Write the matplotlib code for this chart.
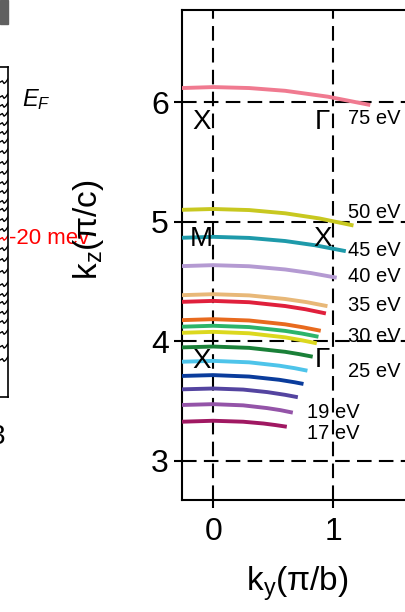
import matplotlib
matplotlib.use("Agg")
import matplotlib.pyplot as plt
from matplotlib.patches import Rectangle

plt.rcParams["font.family"] = ["Liberation Sans", "DejaVu Sans"]
plt.rcParams["mathtext.fontset"] = "custom"
plt.rcParams["mathtext.rm"] = "Liberation Sans"
plt.rcParams["mathtext.it"] = "Liberation Sans:italic"

# ---- данные: контуры постоянной энергии для разных hv ----
CURVE_COLORS = [
    "#f07a90", "#c8c820", "#1e9aaa", "#b49ad2", "#e8b878", "#e0203c",
    "#e86a1e", "#2cb46a", "#dcd81e", "#1a8038", "#4ec4ea", "#0a3c9c",
    "#5444a0", "#9454a8", "#a01862",
]
CURVE_X = [
    [-0.26, 0.0, 0.3, 0.6, 0.955, 1.31],
    [-0.26, 0.0, 0.3, 0.6, 0.885, 1.17],
    [-0.26, 0.0, 0.3, 0.6, 0.853, 1.106],
    [-0.26, 0.0, 0.3, 0.6, 0.815, 1.03],
    [-0.26, 0.0, 0.3, 0.6, 0.777, 0.953],
    [-0.26, 0.0, 0.3, 0.6, 0.77, 0.94],
    [-0.26, 0.0, 0.3, 0.6, 0.749, 0.897],
    [-0.26, 0.0, 0.3, 0.6, 0.739, 0.878],
    [-0.26, 0.0, 0.3, 0.6, 0.732, 0.864],
    [-0.26, 0.0, 0.3, 0.6, 0.715, 0.83],
    [-0.26, 0.0, 0.3, 0.55, 0.68, 0.786],
    [-0.26, 0.0, 0.3, 0.55, 0.68, 0.753],
    [-0.26, 0.0, 0.25, 0.45, 0.6, 0.706],
    [-0.26, 0.0, 0.25, 0.45, 0.56, 0.664],
    [-0.26, 0.0, 0.25, 0.42, 0.52, 0.614],
]
CURVE_Y = [
    [6.117, 6.125, 6.117, 6.094, 6.045, 5.975],
    [5.098, 5.105, 5.096, 5.069, 5.026, 4.967],
    [4.864, 4.872, 4.863, 4.837, 4.801, 4.752],
    [4.627, 4.635, 4.626, 4.599, 4.569, 4.530],
    [4.384, 4.392, 4.382, 4.352, 4.326, 4.292],
    [4.328, 4.336, 4.325, 4.293, 4.266, 4.231],
    [4.175, 4.183, 4.172, 4.140, 4.115, 4.086],
    [4.120, 4.128, 4.117, 4.085, 4.063, 4.036],
    [4.069, 4.077, 4.065, 4.031, 4.008, 3.981],
    [3.947, 3.954, 3.943, 3.910, 3.891, 3.869],
    [3.827, 3.834, 3.822, 3.794, 3.773, 3.752],
    [3.708, 3.715, 3.703, 3.676, 3.655, 3.641],
    [3.596, 3.603, 3.594, 3.573, 3.550, 3.530],
    [3.465, 3.472, 3.462, 3.439, 3.422, 3.401],
    [3.325, 3.333, 3.325, 3.310, 3.297, 3.283],
]

HV_LABELS = ["75 eV", "50 eV", "45 eV", "40 eV", "35 eV", "30 eV", "25 eV", "19 eV", "17 eV"]
HV_LABEL_X = [1.125, 1.125, 1.125, 1.125, 1.125, 1.125, 1.125, 0.78, 0.78]
HV_LABEL_Y = [5.866, 5.078, 4.758, 4.537, 4.300, 4.036, 3.744, 3.404, 3.223]

POINT_LABELS = ["X", "Γ", "M", "X", "X", "Γ"]
POINT_X = [-0.1, 0.91, -0.1, 0.91, -0.1, 0.91]
POINT_Y = [5.83, 5.83, 4.85, 4.85, 3.83, 3.84]

XTICKS = [0, 1]
YTICKS = [3, 4, 5, 6]
ZONE_KY = [0, 1]
ZONE_KZ = [3, 4, 5, 6]

# уровни EDC-кривых на обрезанной левой панели (доля высоты панели)
EDC_LEVELS = [0.954, 0.909, 0.882, 0.855, 0.827, 0.800, 0.773, 0.742,
              0.709, 0.679, 0.648, 0.621, 0.591, 0.567, 0.536, 0.506,
              0.479, 0.448, 0.415, 0.379, 0.339, 0.309, 0.285, 0.255,
              0.227, 0.194, 0.152, 0.112]
EDC_RED_LEVEL = 0.479
EDC_PROFILE_X = [0.0, 0.72, 0.8, 0.86, 0.92, 1.0]
EDC_PROFILE_DY = [0.0, 0.0, 0.004, -0.004, 0.0, 0.010]

W, H = 406, 612
fig = plt.figure(figsize=(W / 100, H / 100), dpi=100)

# ---- обрезанная левая панель ----
axl = fig.add_axes([-0.05, (H - 397) / H, 0.05 + 8 / W, 330 / H])
for lev in EDC_LEVELS:
    col = "red" if lev == EDC_RED_LEVEL else "black"
    axl.plot(EDC_PROFILE_X, [lev + d for d in EDC_PROFILE_DY], color=col, lw=1.0)
axl.set_xlim(0, 1)
axl.set_ylim(0, 1)
axl.set_xticks([])
axl.set_yticks([])
for s in axl.spines.values():
    s.set_linewidth(1.2)

fig.patches.append(Rectangle((0, 1 - 24 / H), 8 / W, 24 / H, color="#606060",
                             transform=fig.transFigure, figure=fig))
fig.text(22 / W, 1 - 100 / H, r"$E_F$", fontsize=17, va="center", ha="left")
fig.text(9 / W, 1 - 239 / H, "-20 mev", color="red", fontsize=16, va="center", ha="left")
fig.text(5 / W, 1 - 437 / H, "3", fontsize=20, va="center", ha="right")

# ---- основная панель kz-ky ----
ax = fig.add_axes([182 / W, (H - 500) / H, 271 / W, 490 / H])
ax.set_xlim(-0.26, 2.0)
ax.set_ylim(2.67, 6.77)

for xv in ZONE_KY:
    ax.axvline(xv, color="black", lw=1.5, dashes=(7, 3.5), zorder=1)
for yv in ZONE_KZ:
    ax.axhline(yv, color="black", lw=1.5, dashes=(7, 3.5), zorder=1)

for xs, ys, c in zip(CURVE_X, CURVE_Y, CURVE_COLORS):
    ax.plot(xs, ys, color=c, lw=2.8, solid_capstyle="butt", zorder=3)

for t, x, y in zip(HV_LABELS, HV_LABEL_X, HV_LABEL_Y):
    ax.text(x, y, t, fontsize=14.5, ha="left", va="center", zorder=4)
for t, x, y in zip(POINT_LABELS, POINT_X, POINT_Y):
    ax.text(x, y, t, fontsize=20, ha="center", va="center", zorder=4)

ax.set_xticks(XTICKS)
ax.set_yticks(YTICKS)
ax.set_xticklabels([str(v) for v in XTICKS])
ax.set_yticklabels([str(v) for v in YTICKS])
ax.tick_params(direction="out", length=5.5, width=1.5, labelsize=23)
ax.tick_params(axis="x", pad=7)
ax.tick_params(axis="y", pad=4)
ax.spines["right"].set_visible(False)
for s in ("left", "top", "bottom"):
    ax.spines[s].set_linewidth(1.5)

fig.text(88 / W, 1 - 230 / H, r"k$_\mathregular{z}$(π/c)", fontsize=24,
         rotation=90, ha="center", va="center")
fig.text(297 / W, 1 - 584 / H, r"k$_\mathregular{y}$(π/b)", fontsize=24,
         ha="center", va="center")

fig.savefig("out.png", dpi=100)
